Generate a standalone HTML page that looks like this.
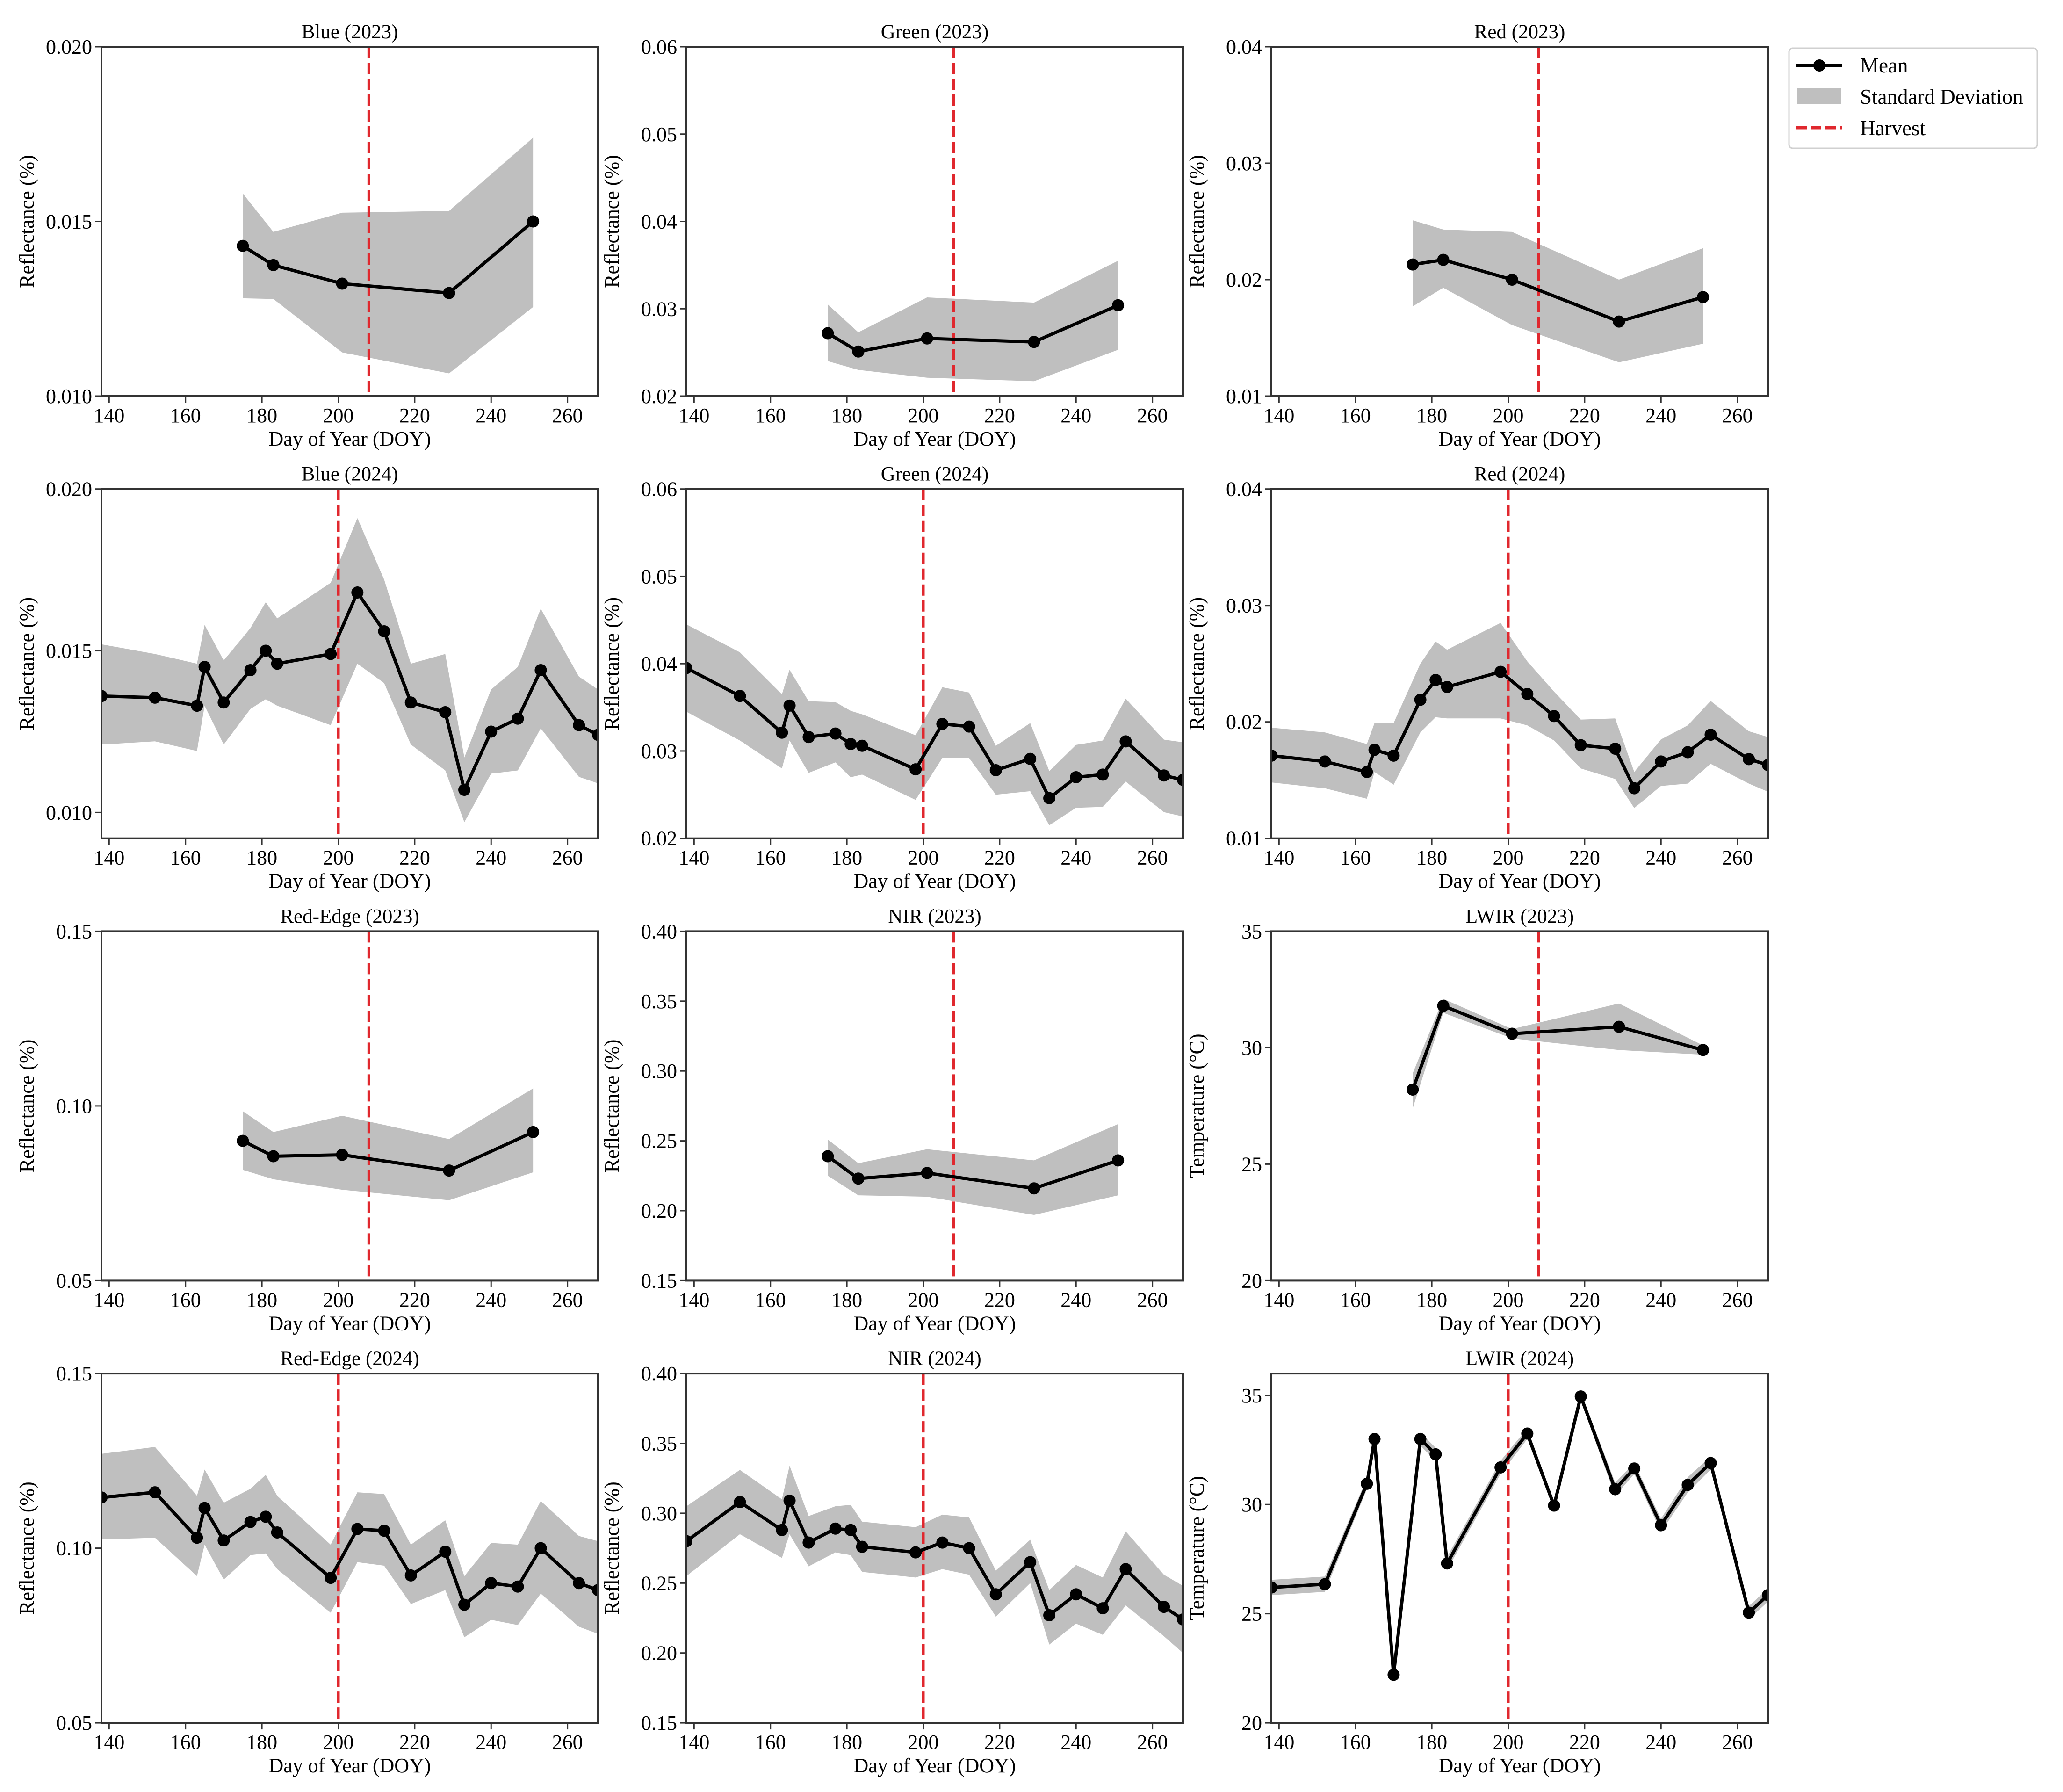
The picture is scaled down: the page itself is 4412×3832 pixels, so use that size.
<!DOCTYPE html>
<html><head><meta charset="utf-8">
<style>
html,body{margin:0;padding:0;background:#fff;}
svg{display:block;font-family:"Liberation Serif","DejaVu Serif",serif;}
</style></head>
<body>
<svg id="fig" width="4412" height="3832" viewBox="0 0 4412 3832" xmlns="http://www.w3.org/2000/svg">
<g id="legend">
<rect x="3826" y="103" width="531" height="214" rx="8" fill="#fff" stroke="#d0d0d0" stroke-width="3"/>
<g>
<line x1="3842" y1="140" x2="3940" y2="140" stroke="#000" stroke-width="7"/>
<circle cx="3891" cy="140" r="13" fill="#000"/>
<text x="3978" y="155" font-size="45">Mean</text></g>
<g>
<rect x="3844" y="189" width="93" height="33" fill="#bfbfbf"/>
<text x="3978" y="222" font-size="45">Standard Deviation</text></g>
<g>
<line x1="3842" y1="273" x2="3940" y2="273" stroke="#e0282e" stroke-width="7" stroke-dasharray="22,9"/>
<text x="3978" y="289" font-size="45">Harvest</text></g>
</g>
</svg>
<script>
const doy23 = [175,183,201,229,251];
const doy24 = [138,152,163,165,170,177,181,184,198,205,212,219,228,233,240,247,253,263,268];
const harvest = [208,200];
const xTicks = [140,160,180,200,220,240,260];

const blue23Mean = [0.0143,0.01375,0.01322,0.01295,0.0150];
const blue23Up   = [0.0158,0.0147,0.01525,0.0153,0.0174];
const blue23Lo   = [0.0128,0.01278,0.01125,0.01065,0.01255];
const green23Mean = [0.0272,0.0251,0.0266,0.0262,0.0304];
const green23Up   = [0.0305,0.0273,0.0313,0.0307,0.0355];
const green23Lo   = [0.0240,0.0230,0.0221,0.0217,0.0253];
const red23Mean = [0.0213,0.0217,0.0200,0.0164,0.0185];
const red23Up   = [0.0251,0.0243,0.0241,0.0200,0.0227];
const red23Lo   = [0.0177,0.0193,0.0161,0.0129,0.0145];

const blue24Mean = [0.0136,0.01355,0.0133,0.0145,0.0134,0.0144,0.0150,0.0146,0.0149,0.0168,0.0156,0.0134,0.0131,0.0107,0.0125,0.0129,0.0144,0.0127,0.0124];
const blue24Up   = [0.0152,0.0149,0.0146,0.0158,0.0147,0.0157,0.0165,0.0160,0.0171,0.0191,0.0172,0.0146,0.0149,0.0117,0.0138,0.0145,0.0163,0.0142,0.0138];
const blue24Lo   = [0.0121,0.0122,0.0119,0.0133,0.0121,0.0132,0.0135,0.0133,0.0127,0.0146,0.0140,0.0121,0.0113,0.0097,0.0112,0.0113,0.0126,0.0111,0.0109];
const green24Mean = [0.0395,0.0363,0.0321,0.0352,0.0316,0.0320,0.0308,0.0306,0.0279,0.0331,0.0328,0.0278,0.0291,0.0246,0.0270,0.0273,0.0311,0.0272,0.0267];
const green24Up   = [0.0445,0.0413,0.0365,0.0393,0.0357,0.0356,0.0346,0.0342,0.0318,0.0373,0.0367,0.0306,0.0332,0.0277,0.0307,0.0312,0.0360,0.0313,0.0310];
const green24Lo   = [0.0345,0.0312,0.0280,0.0312,0.0275,0.0287,0.0270,0.0273,0.0244,0.0292,0.0292,0.0250,0.0254,0.0215,0.0235,0.0236,0.0265,0.0230,0.0225];
const red24Mean = [0.0171,0.0166,0.0157,0.0176,0.0171,0.0219,0.0236,0.0230,0.0243,0.0224,0.0205,0.0180,0.0177,0.0143,0.0166,0.0174,0.0189,0.0168,0.0163];
const red24Up   = [0.0195,0.0191,0.0181,0.0199,0.0199,0.0250,0.0269,0.0262,0.0285,0.0252,0.0226,0.0202,0.0203,0.0157,0.0185,0.0197,0.0218,0.0192,0.0187];
const red24Lo   = [0.0148,0.0143,0.0134,0.0157,0.0146,0.0191,0.0204,0.0203,0.0203,0.0197,0.0184,0.0160,0.0151,0.0126,0.0145,0.0147,0.0164,0.0147,0.0140];

const re23Mean = [0.0900,0.0856,0.0860,0.0815,0.0925];
const re23Up   = [0.0985,0.0925,0.0972,0.0905,0.1050];
const re23Lo   = [0.0817,0.0790,0.0760,0.0730,0.0810];
const nir23Mean = [0.239,0.223,0.227,0.216,0.236];
const nir23Up   = [0.251,0.234,0.244,0.236,0.262];
const nir23Lo   = [0.225,0.211,0.210,0.197,0.211];
const lw23Mean = [28.2,31.8,30.6,30.9,29.9];
const lw23Up   = [28.9,32.1,30.8,31.9,30.1];
const lw23Lo   = [27.4,31.5,30.4,29.9,29.7];

const re24Mean = [0.1145,0.1160,0.1030,0.1115,0.1022,0.1075,0.1090,0.1045,0.0915,0.1055,0.1050,0.0922,0.0990,0.0838,0.0900,0.0890,0.1000,0.0900,0.0880];
const re24Up   = [0.1270,0.1290,0.1150,0.1225,0.1130,0.1170,0.1210,0.1150,0.1010,0.1160,0.1155,0.1010,0.1080,0.0920,0.1015,0.1010,0.1135,0.1035,0.1020];
const re24Lo   = [0.1025,0.1030,0.0920,0.1010,0.0910,0.0980,0.0985,0.0940,0.0815,0.0960,0.0950,0.0840,0.0880,0.0745,0.0795,0.0780,0.0870,0.0775,0.0755];
const nir24Mean = [0.280,0.308,0.288,0.309,0.279,0.289,0.288,0.276,0.272,0.279,0.275,0.242,0.265,0.227,0.242,0.232,0.260,0.233,0.224];
const nir24Up   = [0.305,0.331,0.310,0.334,0.298,0.305,0.306,0.294,0.290,0.299,0.297,0.259,0.281,0.245,0.263,0.254,0.287,0.256,0.248];
const nir24Lo   = [0.255,0.285,0.268,0.285,0.262,0.272,0.270,0.258,0.254,0.260,0.256,0.226,0.250,0.206,0.221,0.213,0.234,0.212,0.200];
const lw24Mean = [26.2,26.35,30.95,33.0,22.2,33.0,32.3,27.3,31.7,33.25,29.95,34.95,30.7,31.65,29.05,30.9,31.9,25.05,25.85];
const lw24Up   = [26.55,26.7,31.2,33.2,22.35,33.3,32.6,27.6,32.0,33.5,30.15,35.15,31.0,31.9,29.35,31.25,32.2,25.35,26.15];
const lw24Lo   = [25.85,26.0,30.7,32.8,22.05,32.7,32.0,27.0,31.4,33.0,29.75,34.75,30.4,31.4,28.75,30.55,31.6,24.75,25.55];

const yTicksBlue = ["0.010","0.015","0.020"];
const yTicksGreen = ["0.02","0.03","0.04","0.05","0.06"];
const yTicksRed = ["0.01","0.02","0.03","0.04"];
const yTicksRE = ["0.05","0.10","0.15"];
const yTicksNIR = ["0.15","0.20","0.25","0.30","0.35","0.40"];
const yTicksLW = ["20","25","30","35"];

const panels = [
 {name:"blue-2023",title:"Blue (2023)",col:0,row:0,x:doy23,m:blue23Mean,u:blue23Up,l:blue23Lo,ylim:[0.010,0.020],ticks:yTicksBlue,h:0,ylab:"Reflectance (%)"},
 {name:"green-2023",title:"Green (2023)",col:1,row:0,x:doy23,m:green23Mean,u:green23Up,l:green23Lo,ylim:[0.02,0.06],ticks:yTicksGreen,h:0,ylab:"Reflectance (%)"},
 {name:"red-2023",title:"Red (2023)",col:2,row:0,x:doy23,m:red23Mean,u:red23Up,l:red23Lo,ylim:[0.01,0.04],ticks:yTicksRed,h:0,ylab:"Reflectance (%)"},
 {name:"blue-2024",title:"Blue (2024)",col:0,row:1,x:doy24,m:blue24Mean,u:blue24Up,l:blue24Lo,ylim:[0.0092,0.020],ticks:yTicksBlue,h:1,ylab:"Reflectance (%)"},
 {name:"green-2024",title:"Green (2024)",col:1,row:1,x:doy24,m:green24Mean,u:green24Up,l:green24Lo,ylim:[0.02,0.06],ticks:yTicksGreen,h:1,ylab:"Reflectance (%)"},
 {name:"red-2024",title:"Red (2024)",col:2,row:1,x:doy24,m:red24Mean,u:red24Up,l:red24Lo,ylim:[0.01,0.04],ticks:yTicksRed,h:1,ylab:"Reflectance (%)"},
 {name:"red-edge-2023",title:"Red-Edge (2023)",col:0,row:2,x:doy23,m:re23Mean,u:re23Up,l:re23Lo,ylim:[0.05,0.15],ticks:yTicksRE,h:0,ylab:"Reflectance (%)"},
 {name:"nir-2023",title:"NIR (2023)",col:1,row:2,x:doy23,m:nir23Mean,u:nir23Up,l:nir23Lo,ylim:[0.15,0.40],ticks:yTicksNIR,h:0,ylab:"Reflectance (%)"},
 {name:"lwir-2023",title:"LWIR (2023)",col:2,row:2,x:doy23,m:lw23Mean,u:lw23Up,l:lw23Lo,ylim:[20,35],ticks:yTicksLW,h:0,ylab:"Temperature (°C)"},
 {name:"red-edge-2024",title:"Red-Edge (2024)",col:0,row:3,x:doy24,m:re24Mean,u:re24Up,l:re24Lo,ylim:[0.05,0.15],ticks:yTicksRE,h:1,ylab:"Reflectance (%)"},
 {name:"nir-2024",title:"NIR (2024)",col:1,row:3,x:doy24,m:nir24Mean,u:nir24Up,l:nir24Lo,ylim:[0.15,0.40],ticks:yTicksNIR,h:1,ylab:"Reflectance (%)"},
 {name:"lwir-2024",title:"LWIR (2024)",col:2,row:3,x:doy24,m:lw24Mean,u:lw24Up,l:lw24Lo,ylim:[20,36],ticks:yTicksLW,h:1,ylab:"Temperature (°C)"}
];

const NS="http://www.w3.org/2000/svg";
const fig=document.getElementById('fig');
const XL=[138,268];
const W=1062, H=747;
function mk(tag,attrs,parent){const e=document.createElementNS(NS,tag);for(const k in attrs)e.setAttribute(k,attrs[k]);parent.appendChild(e);return e;}

panels.forEach(p=>{
  const L=217+p.col*1251, T=100+p.row*945.7;
  const sx=v=>L+(v-XL[0])/(XL[1]-XL[0])*W;
  const sy=v=>T+H-(v-p.ylim[0])/(p.ylim[1]-p.ylim[0])*H;
  const g=mk('g',{},fig);
  
  
  const cid='clip-'+p.name;
  const cp=mk('clipPath',{id:cid},g);
  mk('rect',{x:L,y:T,width:W,height:H},cp);
  const plot=mk('g',{'clip-path':'url(#'+cid+')'},g);
  let d='M'+p.x.map((x,i)=>sx(x)+','+sy(p.u[i])).join('L');
  for(let i=p.x.length-1;i>=0;i--) d+='L'+sx(p.x[i])+','+sy(p.l[i]);
  const band=mk('path',{d:d+'Z',fill:'#bfbfbf'},plot);
  
  
  const hx=sx(harvest[p.h]);
  const hl=mk('line',{x1:hx,y1:T,x2:hx,y2:T+H,stroke:'#e0282e','stroke-width':6,'stroke-dasharray':'24,10'},plot);
  
  
  const ml=mk('polyline',{points:p.x.map((x,i)=>sx(x)+','+sy(p.m[i])).join(' '),fill:'none',stroke:'#000','stroke-width':7,'stroke-linejoin':'round'},plot);
  
  
  p.x.forEach((x,i)=>{
    const c=mk('circle',{cx:sx(x),cy:sy(p.m[i]),r:13,fill:'#000'},plot);
    
    
  });
  const fr=mk('rect',{x:L,y:T,width:W,height:H,fill:'none',stroke:'#333','stroke-width':4},g);
  
  
  xTicks.forEach(t=>{
    const x=sx(t);
    mk('line',{x1:x,y1:T+H,x2:x,y2:T+H+14,stroke:'#333','stroke-width':3},g);
    const tx=mk('text',{x:x,y:T+H+56,'font-size':44,'text-anchor':'middle'},g);
    tx.textContent=t;
    
    
  });
  p.ticks.forEach(t=>{
    const y=sy(parseFloat(t));
    mk('line',{x1:L-14,y1:y,x2:L,y2:y,stroke:'#333','stroke-width':3},g);
    const ty=mk('text',{x:L-20,y:y+15,'font-size':44,'text-anchor':'end'},g);
    ty.textContent=t;
    
    
  });
  const tt=mk('text',{x:L+W/2,y:T-18,'font-size':43,'text-anchor':'middle'},g);
  tt.textContent=p.title;
  
  
  const xl=mk('text',{x:L+W/2,y:T+H+106,'font-size':44,'text-anchor':'middle'},g);
  xl.textContent='Day of Year (DOY)';
  
  
  const yx=L-145, yy=T+H/2;
  const yl=mk('text',{x:yx,y:yy,'font-size':44,'text-anchor':'middle',transform:'rotate(-90 '+yx+' '+yy+')'},g);
  yl.textContent=p.ylab;
  
  
});
fig.appendChild(document.getElementById('legend'));
</script>
</body></html>
